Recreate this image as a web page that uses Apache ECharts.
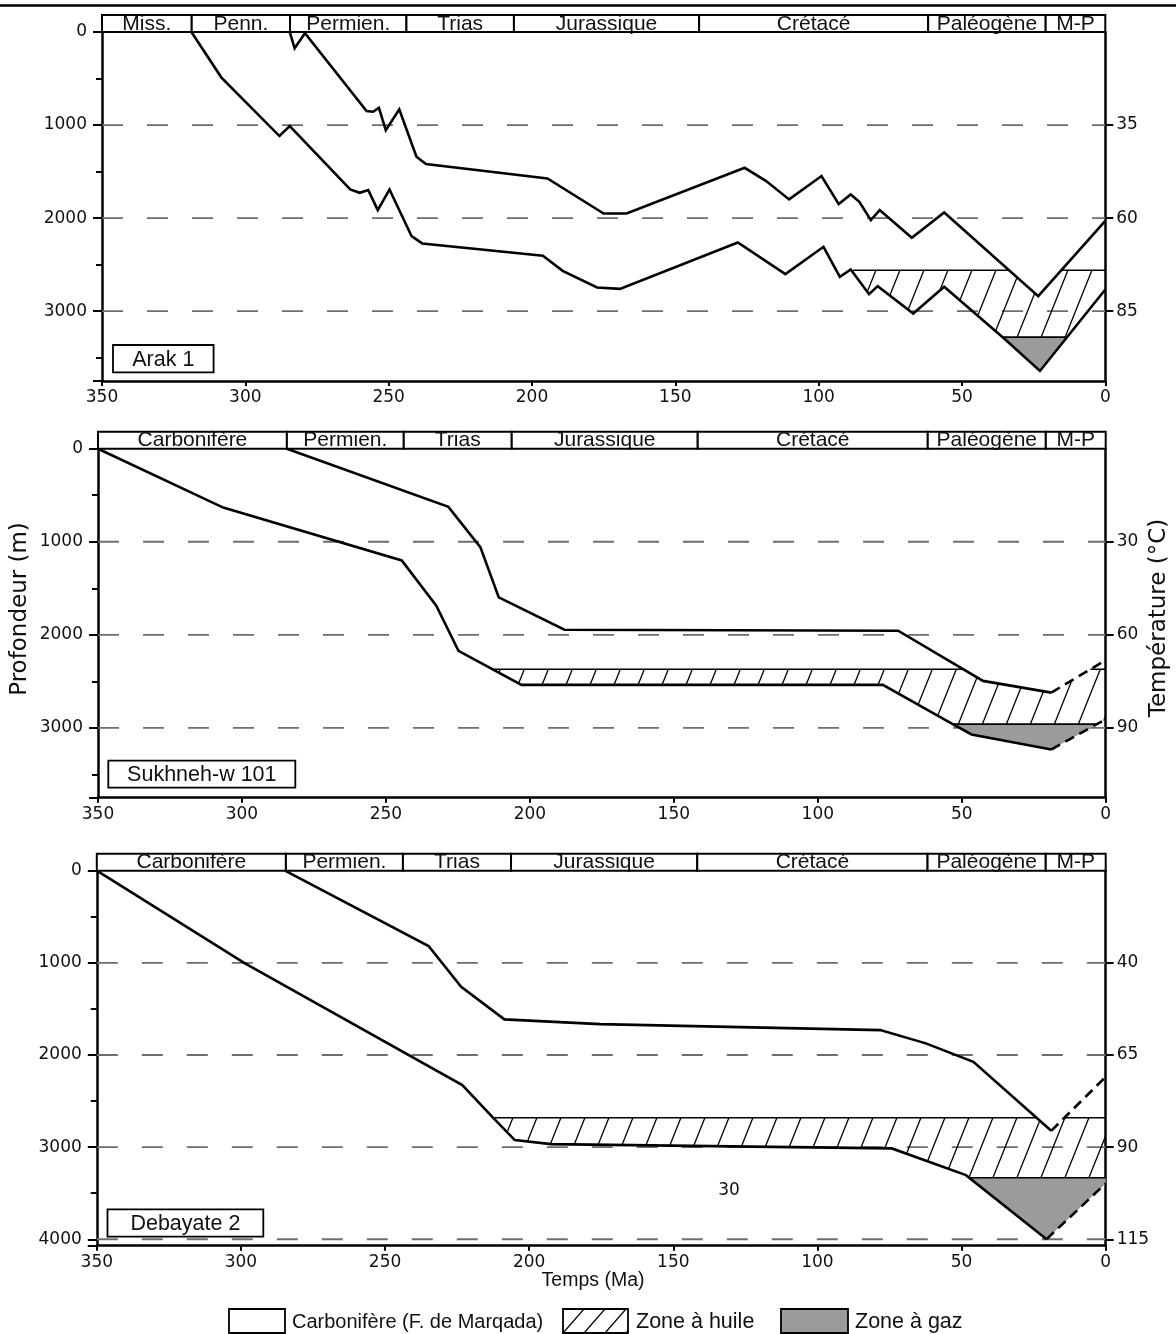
<!DOCTYPE html>
<html><head><meta charset="utf-8">
<script src="https://cdn.jsdelivr.net/npm/echarts@6/dist/echarts.min.js"></script>
<style>html,body{margin:0;padding:0;background:#fff}#c{width:1176px;height:1334px}</style>
</head><body><div id="c"></div>
<script>
// ---------------- DATA ----------------
// Stratigraphic periods (age in Ma at each boundary)
const periodLabelsArak = ['Miss.', 'Penn.', 'Permien.', 'Trias', 'Jurassique', 'Crétacé', 'Paléogène', 'M-P'];
const periodEdgesArak = [350, 318.7, 284.4, 243.8, 206.3, 141.7, 61.8, 20.8, 0];
const periodLabels = ['Carbonifère', 'Permien.', 'Trias', 'Jurassique', 'Crétacé', 'Paléogène', 'M-P'];
const periodEdges = [350, 284.4, 243.8, 206.3, 141.7, 61.8, 20.8, 0];

// Burial curves [age Ma, depth m]
const arakTop = [[284.5,0],[282.8,175],[279.2,14],[257.7,849],[255.4,857],[253.4,814],[251.0,1054],[246.3,831],[240.3,1341],[237.0,1419],[194.6,1573],[175.0,1950],[167.0,1950],[125.8,1459],[118.3,1602],[110.3,1799],[99.0,1548],[93.0,1849],[88.8,1745],[85.8,1825],[81.8,2022],[78.7,1914],[67.5,2211],[56.2,1939],[23.4,2839],[0,2029]];
const arakBase = [[318.8,0],[308.4,487],[288.1,1118],[284.5,1011],[263.4,1692],[260.1,1728],[257.1,1699],[253.8,1914],[249.7,1692],[242.0,2194],[238.3,2272],[196.2,2405],[189.3,2566],[177.3,2745],[169.3,2760],[128.2,2262],[111.6,2602],[98.3,2308],[92.6,2631],[88.8,2552],[82.4,2817],[79.4,2731],[67.0,3025],[56.2,2738],[35.3,3294],[22.8,3642],[0,2767]];

const sukTop = [[284.4,0],[228.3,625],[217.2,1057],[210.8,1597],[188.0,1945],[72.1,1956],[42.6,2495],[18.9,2621]];
const sukTopProj = [[18.9,2621],[0,2272]];
const sukBase = [[350,0],[306.5,633],[244.5,1201],[232.5,1686],[224.8,2172],[202.9,2538],[77.4,2538],[53.9,2945],[46.6,3070],[18.9,3232]];
const sukBaseProj = [[18.9,3232],[0,2908]];

const debTop = [[284.7,0],[234.9,817],[223.6,1259],[208.6,1614],[175.4,1665],[78.2,1730],[62.4,1874],[45.9,2074],[18.9,2823]];
const debTopProj = [[18.9,2823],[0,2237]];
const debBase = [[350,0],[298.6,1006],[223.2,2327],[212.3,2689],[205.0,2924],[192.4,2968],[74.2,3014],[48.5,3304],[20.5,3999]];
const debBaseProj = [[20.5,3999],[0,3394]];

// Oil window [top, bottom] depth (m) and gas top depth (m)
const oilArak = [2560, 3280]; const gasArak = 3280; const oilStartArak = 88;
const oilSuk = [2370, 2960]; const gasSuk = 2960;
const oilDeb = [2682, 3333]; const gasDeb = 3333;

// Axis ticks and labels
const depthTicks = [0, 1000, 2000, 3000];
const depthTicksDeb = [0, 1000, 2000, 3000, 4000];
const minorTicks = [500, 1500, 2500, 3500];
const tempTicks = [1000, 2000, 3000];
const tempTicksDeb = [1000, 2000, 3000, 4000];
const tempLabelsArak = ['35', '60', '85'];
const tempLabelsSuk = ['30', '60', '90'];
const tempLabelsDeb = ['40', '65', '90', '115'];

// ---------------- HELPERS ----------------
const TXT = '#111';
function clipPoly(poly, keep, cross) {
  const out = [];
  for (let i = 0; i < poly.length; i++) {
    const a = poly[i], b = poly[(i + 1) % poly.length];
    const ia = keep(a), ib = keep(b);
    if (ia) out.push(a);
    if (ia !== ib) out.push(cross(a, b));
  }
  return out;
}
function clipDepth(poly, level, keepBelow) {
  return clipPoly(poly, p => keepBelow ? p[1] >= level : p[1] <= level,
    (a, b) => [a[0] + (level - a[1]) * (b[0] - a[0]) / (b[1] - a[1]), level]);
}
function clipAge(poly, tMax) {
  return clipPoly(poly, p => p[0] <= tMax,
    (a, b) => [tMax, a[1] + (tMax - a[0]) * (b[1] - a[1]) / (b[0] - a[0])]);
}
function hatchCanvas(w, h, lw) {
  const c = document.createElement('canvas'); c.width = w; c.height = h;
  const g = c.getContext('2d'); g.strokeStyle = '#000'; g.lineWidth = lw;
  for (const dx of [-w, 0, w]) { g.beginPath(); g.moveTo(dx, h); g.lineTo(dx + w, 0); g.stroke(); }
  return c;
}
const hatch = hatchCanvas(24, 60, 1.3);
const hatchLegend = hatchCanvas(21, 24, 1.3);

const panels = [
  { layout: {left: 102, top: 32, width: 1003.3, height: 349}, maxDepth: 3750,
    ticks: depthTicks, tTicks: tempTicks, tLabels: tempLabelsArak,
    pLabels: periodLabelsArak, pEdges: periodEdgesArak,
    top: arakTop, topProj: null, base: arakBase, baseProj: null,
    oil: oilArak, gas: gasArak, oilStart: oilStartArak },
  { layout: {left: 98, top: 448.7, width: 1007.7, height: 349}, maxDepth: 3750,
    ticks: depthTicks, tTicks: tempTicks, tLabels: tempLabelsSuk,
    pLabels: periodLabels, pEdges: periodEdges,
    top: sukTop, topProj: sukTopProj, base: sukBase, baseProj: sukBaseProj,
    oil: oilSuk, gas: gasSuk, oilStart: null },
  { layout: {left: 96.8, top: 870.7, width: 1008.9, height: 375}, maxDepth: 4070,
    ticks: depthTicksDeb, tTicks: tempTicksDeb, tLabels: tempLabelsDeb,
    pLabels: periodLabels, pEdges: periodEdges,
    top: debTop, topProj: debTopProj, base: debBase, baseProj: debBaseProj,
    oil: oilDeb, gas: gasDeb, oilStart: null }
];

function zonesOf(p) {
  const baseFull = p.base.concat(p.baseProj ? p.baseProj.slice(1) : []);
  const topFull = p.top.concat(p.topProj ? p.topProj.slice(1) : []);
  const band = baseFull.concat(topFull.slice().reverse());
  const oilBand = p.oilStart != null ? clipAge(band, p.oilStart) : band;
  const oil = clipDepth(clipDepth(oilBand, p.oil[0], true), p.oil[1], false);
  const gas = clipDepth(band, p.gas, true);
  return [{poly: oil, kind: 'oil', levels: p.oil}, {poly: gas, kind: 'gas', levels: [p.gas]}];
}

const option = { animation: false, backgroundColor: '#fff', grid: [], xAxis: [], yAxis: [], series: [], graphic: [] };
const tickFont = {color: TXT, fontFamily: 'DejaVu Sans', fontSize: 17};

panels.forEach((p, pi) => {
  option.grid.push(Object.assign({containLabel: false, outerBoundsMode: 'none'}, p.layout));
  option.xAxis.push({ gridIndex: pi, type: 'value', min: 0, max: 350, interval: 50, inverse: true,
    axisLine: {onZero: false, lineStyle: {color: '#000', width: 2.5}},
    axisTick: {length: 5, lineStyle: {color: '#000', width: 2}},
    axisLabel: Object.assign({margin: 8, formatter: v => String(v)}, tickFont),
    splitLine: {show: false} });
  const yMain = option.yAxis.length;
  option.yAxis.push({ gridIndex: pi, type: 'value', min: 0, max: p.maxDepth, inverse: true, position: 'left',
    axisLine: {show: true, onZero: false, lineStyle: {color: '#000', width: 2.5}},
    axisTick: {show: true, length: 9, customValues: p.ticks.concat([p.maxDepth]), lineStyle: {color: '#000', width: 2}},
    axisLabel: Object.assign({customValues: p.ticks, margin: 15, formatter: v => String(v)}, tickFont),
    splitLine: {show: false} });
  option.yAxis.push({ gridIndex: pi, type: 'value', min: 0, max: p.maxDepth, inverse: true, position: 'left', offset: 0,
    axisLine: {show: false, onZero: false},
    axisTick: {show: true, length: 6, customValues: minorTicks, lineStyle: {color: '#000', width: 2}},
    axisLabel: {show: false}, splitLine: {show: false} });
  option.yAxis.push({ gridIndex: pi, type: 'value', min: 0, max: p.maxDepth, inverse: true, position: 'right',
    axisLine: {show: true, onZero: false, lineStyle: {color: '#000', width: 2.5}},
    axisTick: {show: true, length: 8, customValues: p.tTicks, lineStyle: {color: '#000', width: 2}},
    axisLabel: Object.assign({customValues: p.tTicks, margin: 11,
      formatter: v => { const k = p.tTicks.indexOf(v); return k >= 0 ? p.tLabels[k] : ''; }}, tickFont),
    splitLine: {show: false} });

  // dashed reference depth lines
  p.ticks.filter(d => d > 0).forEach(d => {
    option.series.push({ type: 'line', xAxisIndex: pi, yAxisIndex: yMain, data: [[350, d], [0, d]],
      symbol: 'none', silent: true, z: 1, clip: false,
      lineStyle: {color: '#6e6e6e', width: 1.8, type: [21, 24]} });
  });

  // oil / gas zones
  const zones = zonesOf(p);
  option.series.push({ type: 'custom', xAxisIndex: pi, yAxisIndex: yMain, z: 2, silent: true,
    data: zones.map((_, i) => [i, 0]),
    renderItem: (params, api) => {
      const z = zones[params.dataIndex];
      const n = z.poly.length;
      if (n < 3) return null;
      const pts = z.poly.map(q => api.coord(q));
      const children = [{ type: 'polygon', shape: {points: pts},
        style: {fill: z.kind === 'oil' ? {image: hatch, repeat: 'repeat'} : '#9b9b9b', stroke: null} }];
      for (let k = 0; k < n; k++) {
        const a = z.poly[k], b = z.poly[(k + 1) % n];
        if (a[1] === b[1] && z.levels.indexOf(a[1]) >= 0) {
          const A = pts[k], B = pts[(k + 1) % n];
          children.push({type: 'line', shape: {x1: A[0], y1: A[1], x2: B[0], y2: B[1]},
            style: {stroke: '#000', lineWidth: 1.6}});
        }
      }
      return {type: 'group', children};
    } });

  // burial curves
  const lineStyle = {color: '#000', width: 2.6, join: 'miter', miterLimit: 6};
  [p.top, p.base].forEach(d => option.series.push({ type: 'line', xAxisIndex: pi, yAxisIndex: yMain,
    data: d, symbol: 'none', silent: true, z: 3, clip: false, lineStyle }));
  [p.topProj, p.baseProj].filter(Boolean).forEach(d => option.series.push({ type: 'line', xAxisIndex: pi, yAxisIndex: yMain,
    data: d, symbol: 'none', silent: true, z: 3, clip: false,
    lineStyle: Object.assign({}, lineStyle, {type: [10, 6]}) }));

  // stratigraphic header
  option.series.push({ type: 'custom', xAxisIndex: pi, yAxisIndex: yMain, z: 5, silent: true, clip: false,
    data: p.pLabels.map((_, i) => [i, 0]),
    renderItem: (params, api) => {
      const i = params.dataIndex;
      const x0 = api.coord([p.pEdges[i], 0])[0], x1 = api.coord([p.pEdges[i + 1], 0])[0];
      const y0 = api.coord([0, 0])[1];
      return { type: 'group', children: [
        {type: 'rect', shape: {x: x0, y: y0 - 17, width: x1 - x0, height: 17},
          style: {fill: '#fff', stroke: '#000', lineWidth: 2}},
        {type: 'text', style: {text: p.pLabels[i], x: (x0 + x1) / 2, y: y0 - 8, align: 'center', textAlign: 'center',
          verticalAlign: 'middle', textVerticalAlign: 'middle', fill: TXT, fontSize: 21, fontFamily: 'Liberation Sans'}}
      ]};
    } });
});

// ---------------- DECORATION ----------------
const G = option.graphic;
G.push({type: 'line', shape: {x1: 0, y1: 5.5, x2: 1176, y2: 5.5}, style: {stroke: '#000', lineWidth: 2.5}});
function labelBox(x, y, w, h, text) {
  G.push({type: 'rect', x: x, y: y, shape: {x: 0, y: 0, width: w, height: h}, style: {fill: '#fff', stroke: '#000', lineWidth: 1.8}, z: 10});
  G.push({type: 'text', x: x + w / 2, y: y + h / 2 + 1, style: {text, align: 'center', verticalAlign: 'middle', fill: TXT,
    font: '21.5px "Liberation Sans"'}, z: 11});
}
labelBox(113, 345, 100.6, 27.3, 'Arak 1');
labelBox(108.3, 760.7, 187, 27, 'Sukhneh-w 101');
labelBox(107.5, 1209.3, 155.8, 27.4, 'Debayate 2');

G.push({type: 'text', x: 20, y: 609, rotation: Math.PI / 2,
  style: {text: 'Profondeur (m)', align: 'center', verticalAlign: 'middle', fill: TXT, font: '23px "DejaVu Sans"'}});
G.push({type: 'text', x: 1159, y: 618, rotation: Math.PI / 2,
  style: {text: 'Température (°C)', align: 'center', verticalAlign: 'middle', fill: TXT, font: '23px "DejaVu Sans"'}});
G.push({type: 'text', x: 593, y: 1281,
  style: {text: 'Temps (Ma)', align: 'center', verticalAlign: 'middle', fill: TXT, font: '19.5px "Liberation Sans"'}});
G.push({type: 'text', x: 729, y: 1191,
  style: {text: '30', align: 'center', verticalAlign: 'middle', fill: TXT, font: '17px "DejaVu Sans"'}});

// legend
const legendItems = [
  {x: 229, w: 56, fill: '#fff', text: 'Carbonifère (F. de Marqada)', tx: 292, fs: 20},
  {x: 563, w: 65, fill: {image: hatchLegend, repeat: 'repeat'}, text: 'Zone à huile', tx: 636, fs: 21.5},
  {x: 781, w: 67, fill: '#9b9b9b', text: 'Zone à gaz', tx: 855, fs: 21.5}
];
legendItems.forEach(it => {
  G.push({type: 'rect', x: it.x, y: 1309, shape: {x: 0, y: 0, width: it.w, height: 24}, style: {fill: it.fill, stroke: '#000', lineWidth: 1.8}});
  G.push({type: 'text', x: it.tx, y: 1322, style: {text: it.text, align: 'left', verticalAlign: 'middle', fill: TXT, font: it.fs + 'px "Liberation Sans"'}});
});

const chart = echarts.init(document.getElementById('c'));
chart.setOption(option);
</script>
</body></html>
